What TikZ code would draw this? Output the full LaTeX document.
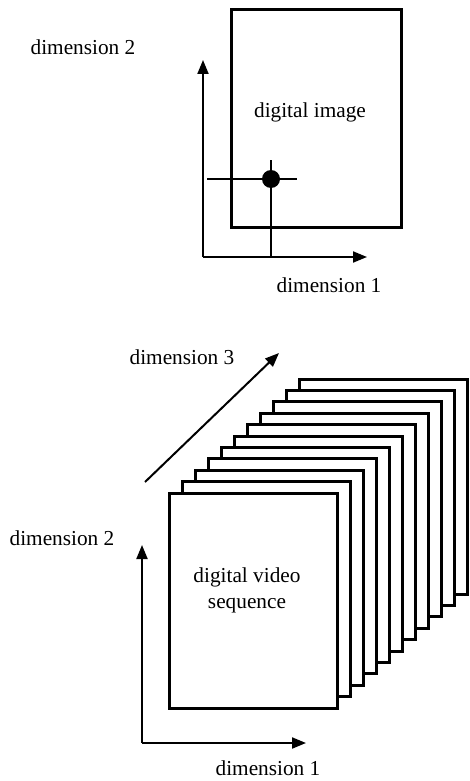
\documentclass[tikz,border=0pt]{standalone}
\usepackage{fontspec}
\setmainfont{Liberation Serif}
\usetikzlibrary{arrows.meta}
\begin{document}
\begin{tikzpicture}[x=1pt,y=-1pt,
  lbl/.style={font=\fontsize{21.3}{24}\selectfont, inner sep=0pt, align=center},
  axis/.style={line width=2pt, -{Triangle[length=14pt,width=11pt]}},
  thin/.style={line width=2pt},
  frame/.style={draw, line width=3pt, fill=white, minimum width=168pt, minimum height=215pt, inner sep=0pt},
  pic/.style={draw, line width=3pt, minimum width=170pt, minimum height=217pt, inner sep=0pt},
  dot/.style={circle, fill=black, minimum size=18pt, inner sep=0pt}]
\useasboundingbox (0,0) rectangle (469,781);
% ---- top: digital image ----
\coordinate (o1) at (203,257);
\coordinate (x1) at (367,257);
\coordinate (y1) at (203,60);
\coordinate (hl) at (207,179);
\coordinate (hr) at (297,179);
\coordinate (vt) at (271,160);
\coordinate (vb) at (271,257);
\node[pic] (img) at (316,118.5) {};
\node[lbl] (imgtxt) at (310,112) {digital image};
\draw[axis] (o1) -- (x1);
\draw[axis] (o1) -- (y1);
\draw[thin] (hl) -- (hr);
\draw[thin] (vt) -- (vb);
\node[dot] (px) at (271,179) {};
\node[lbl] (d2a) at (83,47) {dimension 2};
\node[lbl] (d1a) at (329,285) {dimension 1};
% ---- bottom: video sequence ----
\foreach \i in {10,9,...,0} {
  \node[frame] (f\i) at ({253+13*\i},{600.5-11.4*\i}) {};
}
\node[lbl] (vidtxt) at (247,590) {digital video\\[2pt]sequence};
\coordinate (o2) at (142,743);
\coordinate (x2) at (306,743);
\coordinate (y2) at (142,545);
\coordinate (t0) at (145,482);
\coordinate (t1) at (279,353);
\draw[axis] (o2) -- (x2);
\draw[axis] (o2) -- (y2);
\draw[axis] (t0) -- (t1);
\node[lbl] (d3) at (182,357) {dimension 3};
\node[lbl] (d2b) at (62,538) {dimension 2};
\node[lbl] (d1b) at (268,768) {dimension 1};
\end{tikzpicture}
\end{document}
